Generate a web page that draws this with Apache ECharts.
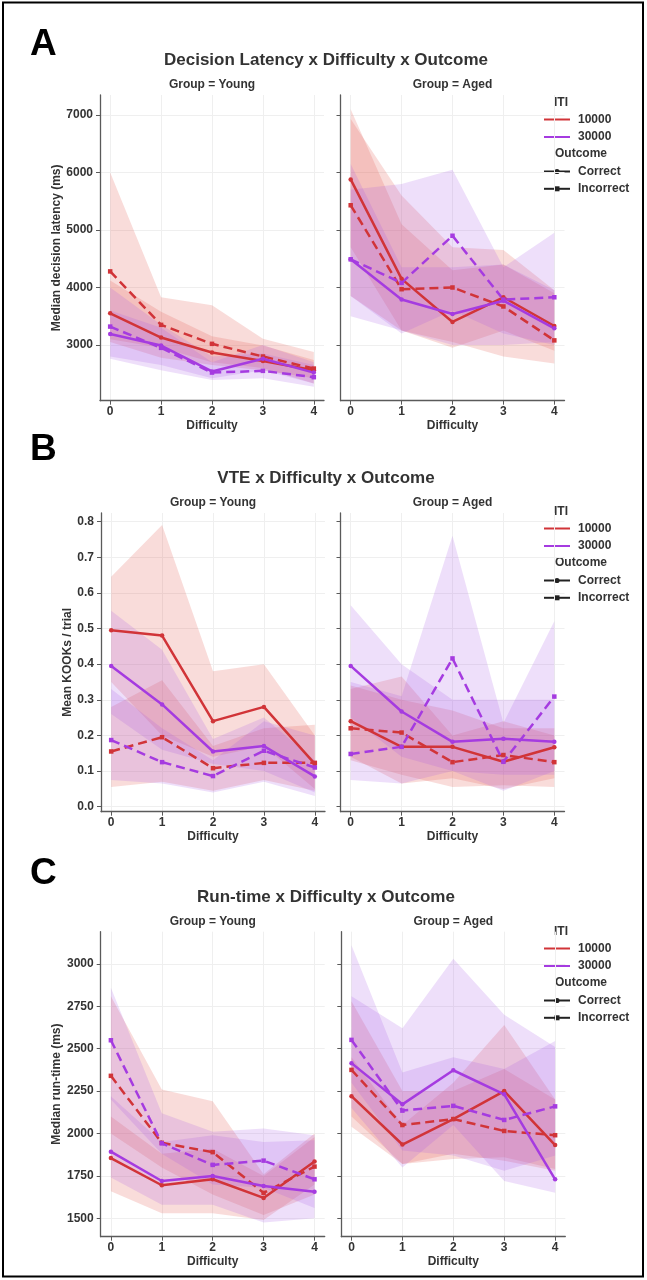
<!DOCTYPE html>
<html><head><meta charset="utf-8">
<script src="https://cdn.jsdelivr.net/npm/echarts@6/dist/echarts.min.js"></script>
<style>html,body{margin:0;padding:0;background:#fff}#c{width:647px;height:1280px}</style>
</head><body><div id="c"></div>
<script>
// ---------- categories / tick labels ----------
const difficulty = [0, 1, 2, 3, 4];
const xTicks = [0, 1, 2, 3, 4];
const latencyTicks = [3000, 4000, 5000, 6000, 7000];
const vteTicks = [0, 0.1, 0.2, 0.3, 0.4, 0.5, 0.6, 0.7, 0.8];
const runTicks = [1500, 1750, 2000, 2250, 2500, 2750, 3000];
const itiLevels = ['10000', '30000'];
const outcomeLevels = ['Correct', 'Incorrect'];
const groups = ['Young', 'Aged'];
const panelLetters = ['A', 'B', 'C'];
const panelTitles = ['Decision Latency x Difficulty x Outcome', 'VTE x Difficulty x Outcome', 'Run-time x Difficulty x Outcome'];
const yNames = ['Median decision latency (ms)', 'Mean KOOKs / trial', 'Median run-time (ms)'];

// ---------- Panel A: median decision latency (ms) ----------
const A_young_10000_correct    = [3550, 3130, 2870, 2720, 2560];
const A_young_10000_correct_lo = [3050, 2780, 2650, 2560, 2420];
const A_young_10000_correct_hi = [4120, 3580, 3150, 2990, 2740];
const A_young_10000_incorrect    = [4280, 3350, 3020, 2800, 2590];
const A_young_10000_incorrect_lo = [3100, 2950, 2700, 2600, 2330];
const A_young_10000_incorrect_hi = [6000, 3830, 3690, 3110, 2880];
const A_young_30000_correct    = [3190, 2990, 2540, 2760, 2520];
const A_young_30000_correct_lo = [2800, 2650, 2420, 2560, 2330];
const A_young_30000_correct_hi = [3600, 3300, 2700, 3000, 2700];
const A_young_30000_incorrect    = [3320, 2950, 2520, 2550, 2440];
const A_young_30000_incorrect_lo = [2760, 2560, 2390, 2420, 2275];
const A_young_30000_incorrect_hi = [4000, 3350, 2800, 2850, 2650];

const A_aged_10000_correct    = [5880, 4150, 3400, 3830, 3330];
const A_aged_10000_correct_lo = [4700, 3250, 2950, 3250, 2900];
const A_aged_10000_correct_hi = [7100, 5100, 4300, 4400, 3900];
const A_aged_10000_incorrect    = [5430, 3970, 4000, 3670, 3080];
const A_aged_10000_incorrect_lo = [3850, 3250, 3050, 2800, 2680];
const A_aged_10000_incorrect_hi = [6930, 5600, 4700, 4650, 3950];
const A_aged_30000_correct    = [4490, 3790, 3540, 3770, 3290];
const A_aged_30000_correct_lo = [3500, 3250, 3000, 3000, 3050];
const A_aged_30000_correct_hi = [6150, 4350, 4350, 4400, 3950];
const A_aged_30000_incorrect    = [4490, 4080, 4900, 3790, 3830];
const A_aged_30000_incorrect_lo = [3850, 3200, 3600, 3200, 3000];
const A_aged_30000_incorrect_hi = [5700, 5800, 6050, 4350, 4950];

// ---------- Panel B: mean KOOKs / trial ----------
const B_young_10000_correct    = [0.495, 0.480, 0.240, 0.280, 0.120];
const B_young_10000_correct_lo = [0.350, 0.200, 0.140, 0.170, 0.050];
const B_young_10000_correct_hi = [0.645, 0.790, 0.380, 0.400, 0.200];
const B_young_10000_incorrect    = [0.155, 0.195, 0.108, 0.123, 0.123];
const B_young_10000_incorrect_lo = [0.055, 0.070, 0.045, 0.075, 0.045];
const B_young_10000_incorrect_hi = [0.280, 0.355, 0.170, 0.220, 0.230];
const B_young_30000_correct    = [0.395, 0.287, 0.155, 0.170, 0.085];
const B_young_30000_correct_lo = [0.260, 0.160, 0.120, 0.100, 0.040];
const B_young_30000_correct_hi = [0.550, 0.440, 0.190, 0.250, 0.130];
const B_young_30000_incorrect    = [0.187, 0.125, 0.086, 0.157, 0.110];
const B_young_30000_incorrect_lo = [0.075, 0.065, 0.040, 0.070, 0.030];
const B_young_30000_incorrect_hi = [0.330, 0.220, 0.130, 0.240, 0.200];

const B_aged_10000_correct    = [0.240, 0.168, 0.168, 0.126, 0.167];
const B_aged_10000_correct_lo = [0.140, 0.065, 0.080, 0.050, 0.080];
const B_aged_10000_correct_hi = [0.340, 0.300, 0.270, 0.220, 0.220];
const B_aged_10000_incorrect    = [0.220, 0.208, 0.125, 0.145, 0.125];
const B_aged_10000_incorrect_lo = [0.130, 0.090, 0.055, 0.060, 0.055];
const B_aged_10000_incorrect_hi = [0.330, 0.365, 0.200, 0.240, 0.200];
const B_aged_30000_correct    = [0.395, 0.267, 0.182, 0.191, 0.182];
const B_aged_30000_correct_lo = [0.250, 0.140, 0.100, 0.090, 0.090];
const B_aged_30000_correct_hi = [0.565, 0.400, 0.300, 0.300, 0.300];
const B_aged_30000_incorrect    = [0.148, 0.168, 0.416, 0.126, 0.309];
const B_aged_30000_incorrect_lo = [0.075, 0.065, 0.100, 0.045, 0.100];
const B_aged_30000_incorrect_hi = [0.350, 0.310, 0.760, 0.235, 0.520];

// ---------- Panel C: median run-time (ms) ----------
const C_young_10000_correct    = [1855, 1695, 1730, 1620, 1835];
const C_young_10000_correct_lo = [1660, 1530, 1530, 1490, 1700];
const C_young_10000_correct_hi = [2100, 1880, 1910, 1750, 1980];
const C_young_10000_incorrect    = [2340, 1945, 1890, 1650, 1805];
const C_young_10000_incorrect_lo = [2000, 1800, 1640, 1520, 1640];
const C_young_10000_incorrect_hi = [2810, 2260, 2190, 1760, 2000];
const C_young_30000_correct    = [1893, 1720, 1750, 1690, 1657];
const C_young_30000_correct_lo = [1740, 1580, 1580, 1475, 1500];
const C_young_30000_correct_hi = [2220, 1950, 1990, 1950, 1960];
const C_young_30000_incorrect    = [2550, 1942, 1815, 1840, 1730];
const C_young_30000_incorrect_lo = [2200, 1880, 1700, 1680, 1560];
const C_young_30000_incorrect_hi = [2860, 2120, 2010, 2030, 1990];

const C_aged_10000_correct    = [2220, 1935, 2085, 2250, 1932];
const C_aged_10000_correct_lo = [2040, 1820, 1850, 1860, 1790];
const C_aged_10000_correct_hi = [2450, 2050, 2300, 2640, 2200];
const C_aged_10000_incorrect    = [2375, 2050, 2085, 2015, 1990];
const C_aged_10000_incorrect_lo = [2100, 1820, 1880, 1840, 1780];
const C_aged_10000_incorrect_hi = [2780, 2250, 2250, 2380, 2200];
const C_aged_30000_correct    = [2415, 2172, 2373, 2231, 1730];
const C_aged_30000_correct_lo = [2150, 1800, 2050, 1720, 1650];
const C_aged_30000_correct_hi = [2810, 2620, 3030, 2700, 2510];
const C_aged_30000_incorrect    = [2552, 2135, 2163, 2080, 2160];
const C_aged_30000_incorrect_lo = [2300, 1900, 1870, 1780, 1870];
const C_aged_30000_incorrect_hi = [3110, 2360, 2450, 2380, 2545];

// ---------- assembly ----------
const facets = [
  [[A_young_10000_correct, A_young_10000_correct_lo, A_young_10000_correct_hi, 0, 0],
   [A_young_10000_incorrect, A_young_10000_incorrect_lo, A_young_10000_incorrect_hi, 0, 1],
   [A_young_30000_correct, A_young_30000_correct_lo, A_young_30000_correct_hi, 1, 0],
   [A_young_30000_incorrect, A_young_30000_incorrect_lo, A_young_30000_incorrect_hi, 1, 1]],
  [[A_aged_10000_correct, A_aged_10000_correct_lo, A_aged_10000_correct_hi, 0, 0],
   [A_aged_10000_incorrect, A_aged_10000_incorrect_lo, A_aged_10000_incorrect_hi, 0, 1],
   [A_aged_30000_correct, A_aged_30000_correct_lo, A_aged_30000_correct_hi, 1, 0],
   [A_aged_30000_incorrect, A_aged_30000_incorrect_lo, A_aged_30000_incorrect_hi, 1, 1]],
  [[B_young_10000_correct, B_young_10000_correct_lo, B_young_10000_correct_hi, 0, 0],
   [B_young_10000_incorrect, B_young_10000_incorrect_lo, B_young_10000_incorrect_hi, 0, 1],
   [B_young_30000_correct, B_young_30000_correct_lo, B_young_30000_correct_hi, 1, 0],
   [B_young_30000_incorrect, B_young_30000_incorrect_lo, B_young_30000_incorrect_hi, 1, 1]],
  [[B_aged_10000_correct, B_aged_10000_correct_lo, B_aged_10000_correct_hi, 0, 0],
   [B_aged_10000_incorrect, B_aged_10000_incorrect_lo, B_aged_10000_incorrect_hi, 0, 1],
   [B_aged_30000_correct, B_aged_30000_correct_lo, B_aged_30000_correct_hi, 1, 0],
   [B_aged_30000_incorrect, B_aged_30000_incorrect_lo, B_aged_30000_incorrect_hi, 1, 1]],
  [[C_young_10000_correct, C_young_10000_correct_lo, C_young_10000_correct_hi, 0, 0],
   [C_young_10000_incorrect, C_young_10000_incorrect_lo, C_young_10000_incorrect_hi, 0, 1],
   [C_young_30000_correct, C_young_30000_correct_lo, C_young_30000_correct_hi, 1, 0],
   [C_young_30000_incorrect, C_young_30000_incorrect_lo, C_young_30000_incorrect_hi, 1, 1]],
  [[C_aged_10000_correct, C_aged_10000_correct_lo, C_aged_10000_correct_hi, 0, 0],
   [C_aged_10000_incorrect, C_aged_10000_incorrect_lo, C_aged_10000_incorrect_hi, 0, 1],
   [C_aged_30000_correct, C_aged_30000_correct_lo, C_aged_30000_correct_hi, 1, 0],
   [C_aged_30000_incorrect, C_aged_30000_incorrect_lo, C_aged_30000_incorrect_hi, 1, 1]]
];

const LINE_COLORS = ['#d13438', '#a53be0'];
const BAND_COLORS = ['rgba(226,88,80,0.21)', 'rgba(166,84,226,0.19)'];
const TXT = '#333333';
const FONT = '"Liberation Sans", Arial, sans-serif';

const rowLayout = [
  {top: 95, height: 305.7, yMin: 2031, yMax: 7348, ticks: latencyTicks, fmt: v => String(v), nameGap: 37.5, letterY: 44.5, titleY: 60, groupY: 85, legendY: 103},
  {top: 513, height: 298.7, yMin: -0.014, yMax: 0.824, ticks: vteTicks, fmt: v => v.toFixed(1), nameGap: 26, letterY: 450, titleY: 478, groupY: 503, legendY: 512},
  {top: 931.7, height: 305, yMin: 1391.5, yMax: 3190, ticks: runTicks, fmt: v => String(v), nameGap: 36, letterY: 874, titleY: 897, groupY: 922, legendY: 932}
];
const colLeft = [[100, 340.5], [101, 340.5], [100.7, 341.3]];
const GRID_W = 224;

const grids = [], xAxes = [], yAxes = [], series = [];
const AX = '#5a5a5a';
for (let f = 0; f < 6; f++) {
  const r = Math.floor(f / 2), c = f % 2, L = rowLayout[r];
  grids.push({left: colLeft[r][c], top: L.top, width: GRID_W, height: L.height, containLabel: false});
  xAxes.push({
    type: 'value', gridIndex: f, min: -0.2, max: 4.2,
    axisLine: {show: true, onZero: false, lineStyle: {color: AX, width: 1.3}},
    axisTick: {show: true, customValues: xTicks, length: 4, lineStyle: {color: AX, width: 1}},
    axisLabel: {customValues: xTicks, color: TXT, fontSize: 12, fontWeight: 'bold', fontFamily: FONT, margin: 5},
    splitLine: {show: true, lineStyle: {color: '#efefef', width: 1}},
    name: 'Difficulty', nameLocation: 'middle', nameGap: 19,
    nameTextStyle: {color: TXT, fontSize: 12, fontWeight: 'bold', fontFamily: FONT}
  });
  yAxes.push({
    type: 'value', gridIndex: f, min: L.yMin, max: L.yMax,
    axisLine: {show: true, onZero: false, lineStyle: {color: AX, width: 1.3}},
    axisTick: {show: true, customValues: L.ticks, length: 4, lineStyle: {color: AX, width: 1}},
    axisLabel: {show: c === 0, customValues: L.ticks, formatter: L.fmt, color: TXT, fontSize: 12, fontWeight: 'bold', fontFamily: FONT, margin: 7},
    splitLine: {show: true, lineStyle: {color: '#efefef', width: 1}},
    name: c === 0 ? yNames[r] : '', nameLocation: 'middle', nameGap: L.nameGap,
    nameTextStyle: {color: TXT, fontSize: 12, fontWeight: 'bold', fontFamily: FONT}
  });
  facets[f].forEach(([mean, lo, hi, iti, out]) => {
    const bandData = difficulty.map((d, i) => [d, lo[i], hi[i]]);
    series.push({
      type: 'custom', xAxisIndex: f, yAxisIndex: f, z: 1, silent: true, clip: false,
      encode: {x: 0, y: [1, 2]}, data: bandData,
      renderItem: function (params, api) {
        if (params.dataIndex !== 0) return null;
        const pts = [];
        for (let i = 0; i < bandData.length; i++) pts.push(api.coord([bandData[i][0], bandData[i][2]]));
        for (let i = bandData.length - 1; i >= 0; i--) pts.push(api.coord([bandData[i][0], bandData[i][1]]));
        return {type: 'polygon', shape: {points: pts}, style: {fill: BAND_COLORS[iti], stroke: null}};
      }
    });
  });
  facets[f].forEach(([mean, lo, hi, iti, out]) => {
    series.push({
      type: 'line', xAxisIndex: f, yAxisIndex: f, z: 3,
      name: itiLevels[iti] + ' ' + outcomeLevels[out],
      data: difficulty.map((d, i) => [d, mean[i]]),
      symbol: out === 0 ? 'circle' : 'rect', symbolSize: 4.5, showSymbol: true,
      lineStyle: {color: LINE_COLORS[iti], width: 2.5, type: out === 0 ? 'solid' : [9, 5]},
      itemStyle: {color: LINE_COLORS[iti], borderWidth: 0}
    });
  });
}

// ---------- text & legend graphics ----------
const graphic = [
  {type: 'rect', shape: {x: 3, y: 2.5, width: 640, height: 1274}, style: {fill: 'none', stroke: '#000', lineWidth: 2}}
];
function txt(x, y, text, size, align, color) {
  graphic.push({type: 'text', x: x, y: y, style: {text: text, fill: color || TXT, fontSize: size, fontWeight: 'bold', fontFamily: FONT, align: align, verticalAlign: 'middle'}});
}
rowLayout.forEach((L, r) => {
  txt(30, L.letterY, panelLetters[r], 37, 'left', '#000');
  txt(326, L.titleY, panelTitles[r], 17, 'center');
  txt(colLeft[r][0] + GRID_W / 2, L.groupY, 'Group = ' + groups[0], 12, 'center');
  txt(colLeft[r][1] + GRID_W / 2, L.groupY, 'Group = ' + groups[1], 12, 'center');
  const y0 = L.legendY;
  txt(561, y0, 'ITI', 12, 'center');
  itiLevels.forEach((lv, i) => {
    const yy = y0 + 16.5 + i * 17.5;
    graphic.push({type: 'line', shape: {x1: 544, y1: yy, x2: 570, y2: yy}, style: {stroke: LINE_COLORS[i], lineWidth: 2}});
    txt(578, yy, lv, 12, 'left');
  });
  txt(581, y0 + 51, 'Outcome', 12, 'center');
  outcomeLevels.forEach((lv, i) => {
    const yy = y0 + 68.5 + i * 17.3;
    graphic.push({type: 'line', shape: {x1: 544, y1: yy, x2: 570, y2: yy}, style: {stroke: '#222', lineWidth: 2}});
    if (i === 0) graphic.push({type: 'circle', shape: {cx: 557, cy: yy, r: 2.6}, style: {fill: '#222'}});
    else graphic.push({type: 'rect', shape: {x: 554.5, y: yy - 2.5, width: 5, height: 5}, style: {fill: '#222'}});
    txt(578, yy, lv, 12, 'left');
  });
});

const chart = echarts.init(document.getElementById('c'), null, {renderer: 'canvas', width: 647, height: 1280});
chart.setOption({
  animation: false,
  backgroundColor: '#ffffff',
  grid: grids, xAxis: xAxes, yAxis: yAxes, series: series, graphic: graphic
});
</script>
</body></html>
